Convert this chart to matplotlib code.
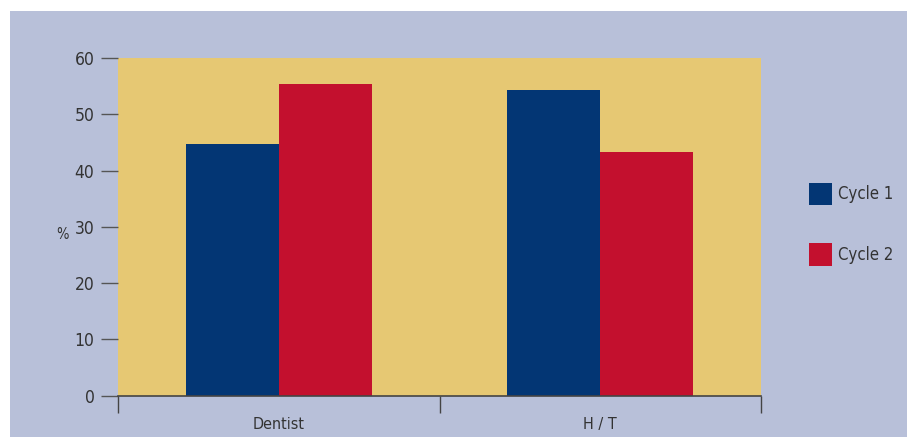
import matplotlib.pyplot as plt
from matplotlib.patches import Rectangle
import numpy as np

plt.rcParams['font.family'] = ['DejaVu Sans']
plt.rcParams['font.stretch'] = 'condensed'

categories = ['Dentist', 'H / T']
cycle1 = [44.7, 54.3]
cycle2 = [55.3, 43.3]
series_names = ['Cycle 1', 'Cycle 2']

bg = '#B8C0D9'
plot_bg = '#E6C873'
blue = '#033674'
red = '#C3102E'
txt = '#333333'

fig = plt.figure(figsize=(9.07, 4.37), dpi=100)
fig.patch.set_facecolor('white')
fig.patches.append(Rectangle((10 / 907, 0), 1, (437 - 11) / 437,
                             transform=fig.transFigure, facecolor=bg,
                             edgecolor='none', zorder=-10))

ax = fig.add_axes([118 / 907, 41.3 / 437, 643 / 907, 337.7 / 437])
ax.set_facecolor(plot_bg)

x = np.arange(len(categories)) + 0.5
w = 0.289
b1 = ax.bar(x - w / 2, cycle1, w, color=blue, label=series_names[0], zorder=2)
b2 = ax.bar(x + w / 2, cycle2, w, color=red, label=series_names[1], zorder=2)

ax.set_xlim(0, 2)
ax.set_ylim(0, 60)
ax.set_yticks(range(0, 61, 10))
ax.tick_params(axis='y', length=12, width=1, color='#555555', pad=5,
               labelsize=12.5, labelcolor=txt)
for s in ['top', 'right', 'left']:
    ax.spines[s].set_visible(False)
ax.spines['bottom'].set_color('#444444')
ax.spines['bottom'].set_linewidth(1.2)

# category boundaries as ticks, labels centred between them
ax.set_xticks([0, 1, 2])
ax.set_xticklabels([])
ax.tick_params(axis='x', length=12, width=1, color='#444444')
ax.set_xticks(x, minor=True)
ax.set_xticklabels(categories, minor=True)
ax.tick_params(axis='x', which='minor', length=0, pad=15, labelsize=11.5,
               labelcolor=txt)

ax.set_ylabel('%', rotation=0, fontsize=10.5, color=txt, va='center')
ax.yaxis.set_label_coords(-0.086, 0.476)

fig.legend(handles=[b1, b2], loc='upper left',
           bbox_to_anchor=(802 / 907, (437 - 176) / 437),
           frameon=False, fontsize=12, handlelength=1.4, handleheight=1.73,
           handletextpad=0.35, labelspacing=2.25, labelcolor=txt,
           borderaxespad=0)

fig.savefig('out.png', dpi=100, facecolor=fig.get_facecolor())
